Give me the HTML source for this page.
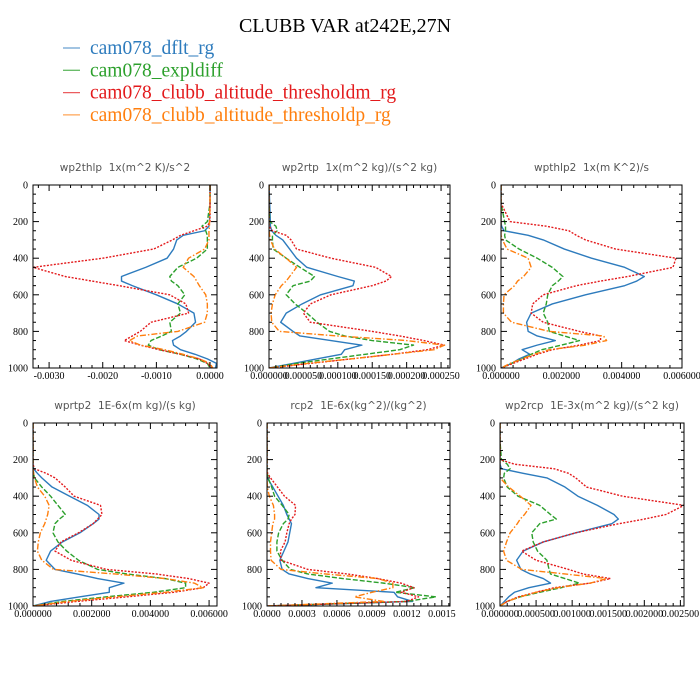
<!DOCTYPE html>
<html><head><meta charset="utf-8"><style>
body{margin:0;background:#fff;}
svg{display:block;}
.ttl{font-family:"Liberation Serif",serif;font-size:20px;fill:#000;}
.leg{font-family:"Liberation Serif",serif;font-size:19.5px;}
.ptl{font-family:"DejaVu Sans","Liberation Sans",sans-serif;font-size:10.5px;fill:#555;white-space:pre;}
.tk{font-family:"Liberation Serif",serif;font-size:10px;fill:#000;}
</style></head><body>
<svg id="chart" width="700" height="700" viewBox="0 0 700 700">
<text class="ttl" x="345" y="32" text-anchor="middle">CLUBB VAR at242E,27N</text>
<g id="legend"></g>
<g id="panels"></g>
</svg>
<script>
const levels=[0,100,200,225,250,275,300,350,400,450,500,525,550,600,650,700,750,800,825,850,875,900,925,950,975,1000];
const seriesNames=["cam078_dflt_rg","cam078_expldiff","cam078_clubb_altitude_thresholdm_rg","cam078_clubb_altitude_thresholdp_rg"];
const seriesColors=["#2d7bbd","#2ca02c","#e31a1c","#ff7f0e"];
const seriesDash=["","5,2","2,1.5","6,2,1.5,2"];
const panelTitles=["wp2thlp  1x(m^2 K)/s^2","wp2rtp  1x(m^2 kg)/(s^2 kg)","wpthlp2  1x(m K^2)/s","wprtp2  1E-6x(m kg)/(s kg)","rcp2  1E-6x(kg^2)/(kg^2)","wp2rcp  1E-3x(m^2 kg)/(s^2 kg)"];
const panelScale=[1e-3,1e-4,1e-3,1e-3,1e-4,1e-4];
const xMin=[-0.0033,0,0,0,0,0];
const xMax=[0.00013,0.000263,0.006,0.00627,0.00157,0.00255];
const xTicks0=[-0.003,-0.002,-0.001,0];
const xTicks1=[0,0.00005,0.0001,0.00015,0.0002,0.00025];
const xTicks2=[0,0.002,0.004,0.006];
const xTicks3=[0,0.002,0.004,0.006];
const xTicks4=[0,0.0003,0.0006,0.0009,0.0012,0.0015];
const xTicks5=[0,0.0005,0.001,0.0015,0.002,0.0025];
const xTickDigits=[4,6,6,6,4,6];
const yTicks=[0,200,400,600,800,1000];
// panel 1 wp2thlp (x1e-3)
const p1Blue=[0,0,-0.01,-0.02,-0.1,-0.5,-0.62,-0.68,-0.8,-1.2,-1.65,-1.65,-1.45,-1.0,-0.6,-0.3,-0.27,-0.44,-0.55,-0.7,-0.68,-0.55,-0.28,-0.05,0.12,0.1];
const p1Green=[0,0,-0.05,-0.15,-0.08,-0.05,-0.05,-0.05,-0.25,-0.6,-0.75,-0.72,-0.6,-0.47,-0.6,-0.55,-0.75,-0.72,-0.9,-1.1,-1.15,-0.95,-0.55,-0.25,-0.05,0];
const p1Red=[0,0,0,-0.05,-0.3,-0.55,-0.7,-1.05,-2.0,-3.3,-2.7,-2.2,-1.7,-0.75,-0.45,-0.4,-1.1,-1.3,-1.45,-1.6,-1.3,-0.95,-0.55,-0.2,-0.05,0.05];
const p1Orange=[0,0,-0.01,-0.01,-0.02,-0.02,-0.02,-0.1,-0.4,-0.5,-0.3,-0.25,-0.2,-0.08,-0.05,-0.05,-0.1,-0.6,-1.35,-1.5,-1.3,-0.85,-0.5,-0.2,0,0.05];
// panel 2 wp2rtp (x1e-4)
const p2Blue=[0,0.01,0.02,0.02,0.04,0.1,0.2,0.3,0.4,0.55,1.0,1.24,1.22,0.75,0.48,0.25,0.17,0.35,0.45,0.9,1.35,1.1,1.05,0.7,0.35,0];
const p2Green=[0,0,0.01,0.1,0.12,0.05,0.05,0.06,0.25,0.45,0.66,0.6,0.35,0.25,0.38,0.55,0.7,0.88,1.1,1.5,2.1,1.9,1.4,0.9,0.4,0];
const p2Red=[0,0,0,0,0.05,0.25,0.32,0.4,0.9,1.55,1.78,1.7,1.5,0.9,0.6,0.5,0.6,1.5,1.9,2.25,2.55,2.3,1.8,1.2,0.6,0];
const p2Orange=[0,0,0,0,0,0.01,0.02,0.08,0.25,0.4,0.3,0.25,0.18,0.09,0.05,0.03,0.04,0.15,1.0,2.0,2.55,2.4,1.8,1.2,0.55,0];
// panel 3 wpthlp2 (x1e-3)
const p3Blue=[0,0,0,0.02,0.1,0.9,1.4,2.1,3.0,4.1,4.75,4.5,4.1,2.8,1.7,1.0,0.85,0.9,1.2,1.8,1.2,0.7,0.95,0.6,0.35,0];
const p3Green=[0,0,0.12,0.15,0.15,0.12,0.15,0.6,1.2,1.7,2.05,1.9,1.7,1.55,1.5,1.4,1.55,1.6,2.1,2.6,2.0,1.35,1.0,0.7,0.35,0];
const p3Red=[0,0,0.3,1.5,2.25,2.5,2.8,3.8,5.8,5.7,4.2,3.3,2.5,1.4,1.05,1.0,1.4,2.6,3.3,3.3,2.6,1.7,1.2,0.8,0.4,0];
const p3Orange=[0,0,0,0,0,0,0.05,0.2,0.9,1.0,0.75,0.55,0.45,0.1,0.08,0.08,0.35,1.6,3.4,3.5,2.8,1.6,1.1,0.7,0.3,0];
// panel 4 wprtp2 (x1e-3)
const p4Blue=[0,0,0,0,0.02,0.15,0.3,0.65,1.25,1.85,2.25,2.25,2.05,1.6,1.0,0.6,0.45,0.75,1.5,2.2,3.1,2.6,2.6,1.6,0.6,0];
const p4Green=[0,0,0,0,0,0.02,0.05,0.3,0.6,0.85,1.1,0.9,0.75,0.68,0.85,1.15,1.55,2.2,3.2,4.5,5.2,5.2,4.1,2.5,1.0,0];
const p4Red=[0,0,0,0,0.05,0.45,0.75,1.1,1.4,2.3,2.35,2.2,2.05,1.55,0.95,0.75,1.3,2.5,4.2,5.3,6.0,5.8,4.8,3.2,1.5,0];
const p4Orange=[0,0,0,0,0,0.02,0.05,0.15,0.4,0.55,0.5,0.45,0.4,0.25,0.18,0.15,0.3,0.7,2.8,4.5,5.5,5.8,4.5,2.8,1.2,0];
// panel 5 rcp2 (x1e-4)
const p5Blue=[0,0,0,0,0,0,0.02,0.5,0.95,1.4,1.7,1.9,2.1,1.95,1.8,1.45,1.1,1.3,1.9,3.5,5.6,4.2,10.9,11.2,12.5,0];
const p5Green=[0,0,0,0,0,0.02,0.1,0.4,0.65,1.3,1.9,1.8,1.4,1.0,0.85,0.85,1.3,2.0,3.5,6.5,10.0,12.7,11.0,14.5,12.0,0];
const p5Red=[0,0,0,0,0,0.05,0.3,0.9,1.5,2.45,2.4,2.1,1.9,1.7,1.55,1.15,1.2,3.5,6.9,9.5,11.5,12.6,11.5,13.0,12.0,0];
const p5Orange=[0,0,0,0,0,0,0,0.03,0.2,0.55,0.65,0.65,0.5,0.4,0.3,0.3,0.35,1.2,5.0,9.5,10.8,10.8,9.0,7.5,10.0,0];
// panel 6 wp2rcp (x1e-4)
const p6Blue=[0,0,0,0,0.2,3.2,6.5,9.0,10.8,13.5,15.8,16.4,15.5,10.5,6.0,3.2,2.3,2.9,4.2,6.0,7.0,4.0,2.0,1.2,0.6,0];
const p6Green=[0,0,0.2,1.0,1.4,0.6,0.5,1.0,2.5,5.5,7.0,7.8,5.5,4.4,4.6,5.2,6.5,6.8,7.0,9.0,11.0,8.5,5.5,2.8,1.0,0];
const p6Red=[0,0,0,2.0,7.5,9.5,10.5,12.0,17.0,25.5,23.0,20.0,16.5,10.5,6.0,3.0,5.0,9.5,11.5,15.3,12.5,7.5,5.0,2.5,1.0,0];
const p6Orange=[0,0,0,0,0,0,0,1.2,2.8,4.3,3.4,2.8,2.4,1.4,0.9,0.5,0.9,3.0,9.0,14.8,12.5,8.0,5.0,2.8,1.0,0];

const panelSeries=[[p1Blue,p1Green,p1Red,p1Orange],[p2Blue,p2Green,p2Red,p2Orange],[p3Blue,p3Green,p3Red,p3Orange],[p4Blue,p4Green,p4Red,p4Orange],[p5Blue,p5Green,p5Red,p5Orange],[p6Blue,p6Green,p6Red,p6Orange]];
const panelXTicks=[xTicks0,xTicks1,xTicks2,xTicks3,xTicks4,xTicks5];
const panelBoxes=[[33,185,217,368],[269,185,450,368],[501,185,682,368],[33,423,217,606],[267,423,450,606],[500,423,684,606]];
const NS="http://www.w3.org/2000/svg";
function mk(tag,attrs,parent){const e=document.createElementNS(NS,tag);for(const k in attrs)e.setAttribute(k,attrs[k]);parent.appendChild(e);return e;}
const legend=document.getElementById('legend');
seriesNames.forEach((n,i)=>{
  const y=54+i*22.3;
  const ln=mk('line',{x1:63,x2:80,y1:y-6,y2:y-6,stroke:seriesColors[i],'stroke-width':1.3,opacity:0.7},legend);
  
  
  const t=mk('text',{x:90,y:y,'class':'leg',fill:seriesColors[i]},legend);
  t.textContent=n;
  
  
});
const panels=document.getElementById('panels');
panelBoxes.forEach((b,pi)=>{
  const [L,T,R,B]=b;
  const g=mk('g',{},panels);
  
  
  const xs=v=>L+(v-xMin[pi])/(xMax[pi]-xMin[pi])*(R-L);
  const ys=p=>T+p/1000*(B-T);
  const tt=mk('text',{x:(L+R)/2,y:T-14,'text-anchor':'middle','class':'ptl'},g);
  tt.textContent=panelTitles[pi];
  
  
  const cp=mk('clipPath',{id:'cp'+pi},g);
  mk('rect',{x:L,y:T,width:R-L,height:B-T},cp);
  const sg=mk('g',{'clip-path':'url(#cp'+pi+')'},g);
  panelSeries[pi].forEach((arr,si)=>{
    const d=arr.map((v,k)=>(k?'L':'M')+xs(v*panelScale[pi]).toFixed(2)+','+ys(levels[k]).toFixed(2)).join('');
    const path=mk('path',{d:d,fill:'none',stroke:seriesColors[si],'stroke-width':1.4,'stroke-dasharray':seriesDash[si],'stroke-linejoin':'round'},sg);
    
    
  });
  const fr=mk('rect',{x:L,y:T,width:R-L,height:B-T,fill:'none',stroke:'#000','stroke-width':1},g);
  
  
  for(let p=0;p<=1000;p+=50){
    const major=p%200===0;const len=major?6:3;const y=ys(p);
    mk('line',{x1:L,x2:L+len,y1:y,y2:y,stroke:'#000','stroke-width':1},g);
    mk('line',{x1:R,x2:R-len,y1:y,y2:y,stroke:'#000','stroke-width':1},g);
  }
  yTicks.forEach(p=>{
    const t=mk('text',{x:L-5,y:ys(p)+3.5,'text-anchor':'end','class':'tk'},g);
    t.textContent=String(p);
    
    
  });
  const xt=panelXTicks[pi];
  const step=xt[1]-xt[0];
  for(let v=xt[0]-step;v<=xMax[pi]+1e-12;v+=step/5){
    if(v<xMin[pi]-1e-12)continue;
    const k=Math.round((v-xt[0])/(step/5));const major=k%5===0;const len=major?6:3;const x=xs(v);
    mk('line',{x1:x,x2:x,y1:B,y2:B-len,stroke:'#000','stroke-width':1},g);
    mk('line',{x1:x,x2:x,y1:T,y2:T+len,stroke:'#000','stroke-width':1},g);
  }
  xt.forEach(v=>{
    const t=mk('text',{x:xs(v),y:B+11,'text-anchor':'middle','class':'tk'},g);
    t.textContent=(Math.abs(v)<1e-12?0:v).toFixed(xTickDigits[pi]);
    
    
  });
});
</script>
</body></html>
